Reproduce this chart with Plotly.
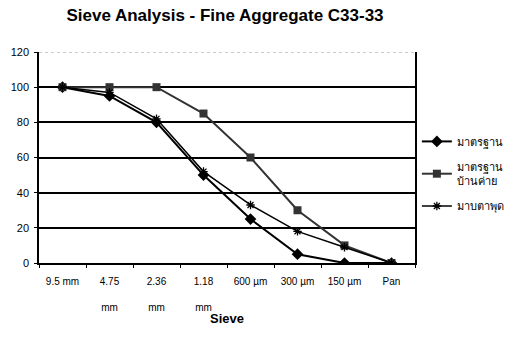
import plotly.graph_objects as go

categories = ["9.5 mm", "4.75<br><br>mm", "2.36<br><br>mm", "1.18<br><br>mm", "600 µm", "300 µm", "150 µm", "Pan"]
std_lower = [100, 95, 80, 50, 25, 5, 0, 0]
std_upper = [100, 100, 100, 85, 60, 30, 10, 0]
map_ta_phut = [100, 97, 82, 52, 33, 18, 9, 0]
names = ["มาตรฐาน", "มาตรฐาน<br>บ้านค่าย", "มาบตาพุด"]

fig = go.Figure()
fig.add_trace(go.Scatter(x=categories, y=std_lower, name=names[0], mode="lines+markers",
                         legendgroup="a",
                         line=dict(color="black", width=2),
                         marker=dict(symbol="diamond", size=9, color="black")))
fig.add_trace(go.Scatter(x=categories, y=std_upper, name=names[1], mode="lines+markers",
                         legendgroup="b",
                         line=dict(color="#333333", width=2),
                         marker=dict(symbol="square", size=8, color="#333333")))
fig.add_trace(go.Scatter(x=categories, y=map_ta_phut, name=names[2], mode="lines+markers",
                         legendgroup="c",
                         line=dict(color="black", width=1.5),
                         marker=dict(symbol="asterisk-open", size=7, color="black",
                                     line=dict(color="black", width=1.3))))

fig.update_layout(
    width=521, height=353,
    margin=dict(l=39, r=89, t=52, b=90),
    paper_bgcolor="white", plot_bgcolor="white",
    font=dict(family="Liberation Sans, Arial, sans-serif", color="black", size=10),
    title=dict(text="<b>Sieve Analysis - Fine Aggregate C33-33</b>",
               x=225/521, xanchor="center", y=1 - 15/353, yanchor="middle",
               font=dict(family="Liberation Sans, Arial, sans-serif", size=17, color="black")),
    showlegend=True,
    legend=dict(x=1.005, xanchor="left", y=0.645, yanchor="top",
                font=dict(size=11, color="black"), bgcolor="rgba(0,0,0,0)",
                itemwidth=30, tracegroupgap=7),
)
fig.update_xaxes(
    type="category", range=[-0.5, 7.5],
    showline=True, linecolor="black", linewidth=1.5,
    showgrid=False, ticks="outside", ticklen=3, tickcolor="black",
    tickson="boundaries", ticklabelstandoff=8,
    tickfont=dict(size=10, color="black"),
)
fig.update_yaxes(
    range=[0, 120], dtick=20,
    showline=True, linecolor="black", linewidth=1.5, mirror=True,
    showgrid=True, gridcolor="black", gridwidth=1.5,
    ticks="outside", ticklen=3, tickcolor="black", ticklabelstandoff=3,
    tickfont=dict(size=11, color="black"),
    zeroline=False,
)
fig.add_annotation(text="<b>Sieve</b>", xref="paper", yref="paper",
                   x=(236 - 39) / 393, y=(263 - 318) / 211,
                   xanchor="center", yanchor="middle", showarrow=False,
                   font=dict(size=13, color="black"))
fig.add_shape(type="line", xref="paper", yref="y", x0=0, x1=1, y0=120, y1=120,
              line=dict(color="#999999", width=1, dash="dot"))

fig.write_html("out.html")
